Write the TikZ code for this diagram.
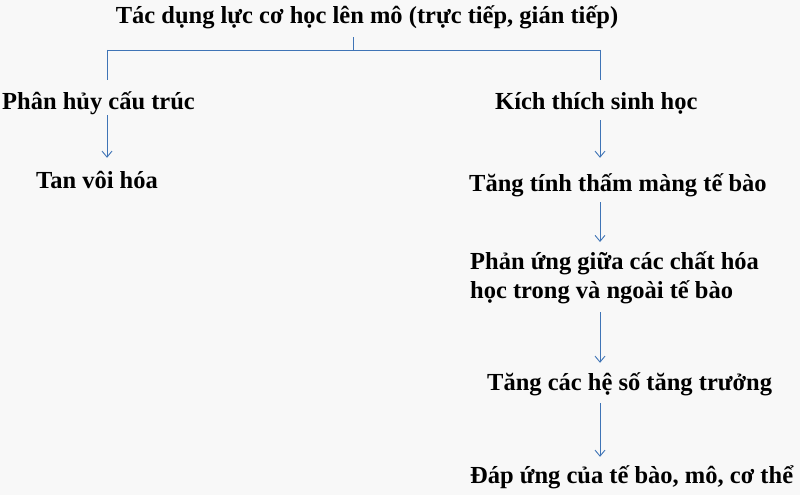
\documentclass[tikz,border=0pt]{standalone}
\usepackage{fontspec}
\setmainfont{Liberation Serif}
\usepackage[dvipsnames]{xcolor}
\usetikzlibrary{arrows, arrows.meta, shapes}
\definecolor{linkblue}{HTML}{3F74B6}
\definecolor{paper}{HTML}{F8F8F8}
\tikzstyle{stage} = [anchor=west, inner sep=0pt, text height=18pt, text depth=6pt, align=left, font=\fontsize{24.5}{29}\selectfont\bfseries]
\tikzstyle{link} = [draw=linkblue, line width=0.9pt]
\tikzstyle{arrow} = [link, ->, >={Straight Barb[length=6pt, width=10pt]}, shorten <=6pt, shorten >=9pt]

\begin{document}
\begin{tikzpicture}[x=1pt, y=-1pt]

\fill[paper] (0,0) rectangle (800,495);
\useasboundingbox (0,0) rectangle (800,495);

\node at (367, 18) (title) [stage, anchor=center] {Tác dụng lực cơ học lên mô (trực tiếp, gián tiếp)};

\node at (2, 103) (phanhuy) [stage] {Phân hủy cấu trúc};
\node at (36, 182) (tanvoi) [stage] {Tan vôi hóa};

\node at (495, 103) (kichthich) [stage] {Kích thích sinh học};
\node at (469, 185) (thammang) [stage] {Tăng tính thấm màng tế bào};
\node at (470, 251) (phanung) [stage, anchor=north west, text height=47pt] {Phản ứng giữa các chất hóa\\học trong và ngoài tế bào};
\node at (487, 384) (heso) [stage] {Tăng các hệ số tăng trưởng};
\node at (470, 477) (dapung) [stage] {Đáp ứng của tế bào, mô, cơ thể};

% branch
\coordinate (split) at (353, 50);
\coordinate (lbranch) at (107, 50);
\coordinate (rbranch) at (600, 50);
\draw[link, shorten <=7pt] (title.south -| split) -- (split);
\draw[link] (lbranch) -- (rbranch);
\draw[link, shorten >=11pt] (lbranch) -- (lbranch |- phanhuy.north);
\draw[link, shorten >=11pt] (rbranch) -- (rbranch |- kichthich.north);

% left column
\draw[arrow, shorten <=0pt, shorten >=12pt] (phanhuy.south -| lbranch) -- (tanvoi.north -| lbranch);

% right column
\draw[arrow, shorten <=5pt, shorten >=15pt] (kichthich.south -| rbranch) -- (thammang.north -| rbranch);
\draw[arrow, shorten <=5pt] (thammang.south -| rbranch) -- (phanung.north -| rbranch);
\draw[arrow, shorten <=8pt] (phanung.south -| rbranch) -- (heso.north -| rbranch);
\draw[arrow, shorten <=7pt, shorten >=8pt] (heso.south -| rbranch) -- (dapung.north -| rbranch);

\end{tikzpicture}
\end{document}
